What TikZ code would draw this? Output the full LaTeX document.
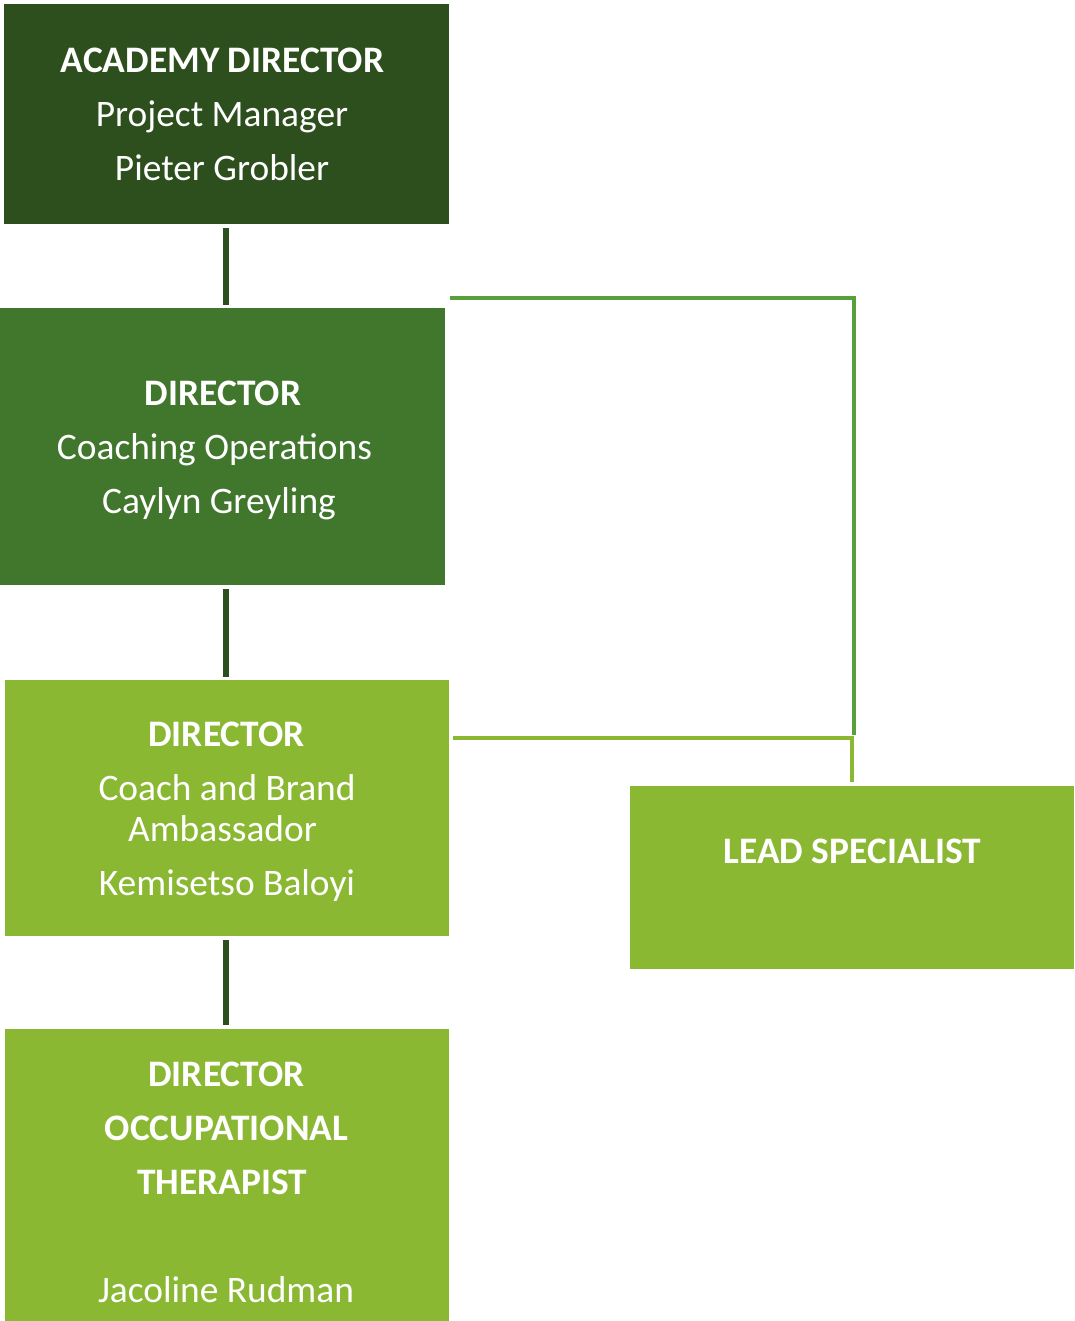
\documentclass[tikz,border=0pt]{standalone}
\usepackage{fontspec}
\setmainfont{Carlito}
\definecolor{gA}{HTML}{2D4F1E}
\definecolor{gB}{HTML}{41762D}
\definecolor{gC}{HTML}{8AB833}
\definecolor{gLine}{HTML}{57A03B}
\begin{document}
\begin{tikzpicture}[x=1pt,y=-1pt,
  box/.style={draw=none,inner sep=0pt,outer sep=0pt,anchor=north west},
  txt/.style={text=white,inner sep=0pt,anchor=base,yshift=-1.5pt,font=\fontsize{37.4}{45}\selectfont},
  ttl/.style={txt,font=\fontsize{37.4}{45}\selectfont\bfseries},
  vlink/.style={draw=gA,line width=6pt},
  hlink/.style={line width=4.5pt}]
\useasboundingbox (0,0) rectangle (1074,1321);
% boxes
\node[box,fill=gA,minimum width=445pt,minimum height=220pt] (b1) at (4,4) {};
\node[box,fill=gB,minimum width=445pt,minimum height=277pt] (b2) at (0,308) {};
\node[box,fill=gC,minimum width=444pt,minimum height=256pt] (b3) at (5,680) {};
\node[box,fill=gC,minimum width=444pt,minimum height=292pt] (b4) at (5,1029) {};
\node[box,fill=gC,minimum width=444pt,minimum height=183pt] (b5) at (630,786) {};
% texts
\node[ttl] (t11) at (222.5,71) {ACADEMY DIRECTOR};
\node[txt] (t12) at (222,125) {Project Manager};
\node[txt] (t13) at (222,179) {Pieter Grobler};
\node[ttl] (t21) at (223,404) {DIRECTOR};
\node[txt] (t22) at (214.5,458) {Coaching Operations};
\node[txt] (t23) at (219,512) {Caylyn Greyling};
\node[ttl] (t31) at (226.5,745) {DIRECTOR};
\node[txt] (t32) at (227,799) {Coach and Brand};
\node[txt] (t33) at (222.5,840) {Ambassador};
\node[txt] (t34) at (227,894) {Kemisetso Baloyi};
\node[ttl] (t41) at (226.5,1085) {DIRECTOR};
\node[ttl] (t42) at (226.5,1139) {OCCUPATIONAL};
\node[ttl] (t43) at (222,1193) {THERAPIST};
\node[txt] (t44) at (226,1301) {Jacoline Rudman};
\node[ttl] (t51) at (852.5,862) {LEAD SPECIALIST};
% vertical links
\coordinate (v1a) at (226,228); \coordinate (v1b) at (226,305);
\coordinate (v2a) at (226,589); \coordinate (v2b) at (226,677);
\coordinate (v3a) at (226,940); \coordinate (v3b) at (226,1025);
\draw[vlink] (v1a) -- (v1b);
\draw[vlink] (v2a) -- (v2b);
\draw[vlink] (v3a) -- (v3b);
% right links
\coordinate (r1a) at (450,298); \coordinate (r1c) at (854,735);
\draw[hlink,draw=gLine] (r1a) -- (854,298) -- (r1c);
\coordinate (r2a) at (453,738); \coordinate (r2c) at (852,782);
\draw[hlink,draw=gC] (r2a) -- (852,738) -- (r2c);
\end{tikzpicture}
\end{document}
